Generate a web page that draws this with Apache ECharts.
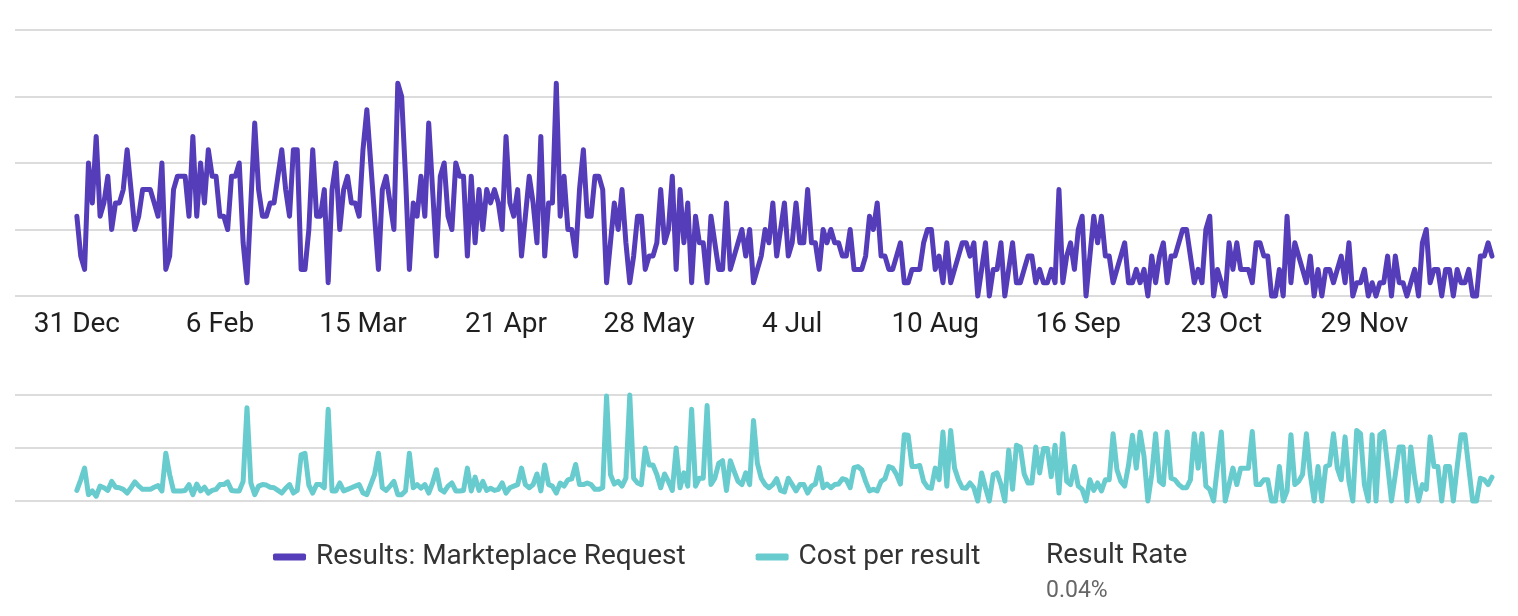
<!DOCTYPE html>
<html>
<head>
<meta charset="utf-8">
<script src="https://cdn.jsdelivr.net/npm/echarts@6/dist/echarts.min.js"></script>
<style>
html,body{margin:0;padding:0;background:#fff;}
#chart{width:1518px;height:616px;}
</style>
</head>
<body>
<div id="chart"></div>
<script>
// Day index 0 = 31 Dec; one value per day
const tickDays = [0, 37, 74, 111, 148, 185, 222, 259, 296, 333];
const tickLabels = ['31 Dec', '6 Feb', '15 Mar', '21 Apr', '28 May', '4 Jul', '10 Aug', '16 Sep', '23 Oct', '29 Nov'];

const results = [
6,3,2,10,7,12,6,7,9,5,7,7,8,11,8,5,6,8,8,8,
7,6,10,2,3,8,9,9,9,6,12,6,10,7,11,9,9,6,6,5,
9,9,10,4,1,7,13,8,6,6,7,7,9,11,8,6,11,11,2,2,
5,11,6,6,8,1,8,10,5,8,9,7,7,6,11,14,10,6,2,8,
9,7,5,16,15,9,2,7,6,9,6,13,8,3,9,10,6,5,10,9,
9,3,9,4,8,5,8,7,8,7,5,12,7,6,8,3,6,9,7,4,
12,3,7,7,16,6,9,5,5,3,8,11,6,6,9,9,8,1,4,7,
5,8,4,1,3,6,6,2,3,3,4,8,4,5,9,2,8,4,7,1,
6,4,4,1,6,4,2,2,7,2,3,4,5,3,5,1,2,3,5,4,
7,3,5,7,3,4,7,4,4,8,4,4,2,5,4,5,4,4,3,3,
5,2,2,2,3,6,5,7,3,3,2,2,3,4,1,1,2,2,2,4,
5,5,2,3,1,4,1,2,3,4,4,3,4,0,2,4,0,2,2,4,
0,2,4,1,1,2,3,3,1,2,1,1,2,1,8,1,3,4,2,5,
6,0,3,6,4,6,3,3,1,2,3,4,1,1,2,1,2,0,3,1,
3,4,1,3,3,4,5,5,3,1,2,1,5,6,0,2,1,0,4,2,
4,2,2,2,1,4,4,3,3,0,0,2,0,6,1,4,3,2,1,3,
0,2,0,2,2,1,2,3,1,4,0,1,1,2,0,1,0,1,1,3,
0,3,1,1,0,1,2,0,4,5,1,2,2,0,2,2,0,2,1,1,
2,0,0,3,3,4,3
];

const costPerResult = [
2.0,4.0,6.2,1.2,1.9,0.9,2.8,2.5,2.0,3.7,2.6,2.5,2.2,1.5,2.5,3.6,2.8,2.2,2.2,2.2,
2.6,2.9,1.9,9.0,5.0,1.9,1.9,1.9,2.0,3.1,1.2,3.2,1.9,2.6,1.5,2.0,2.2,3.1,3.1,3.6,
2.0,1.9,1.9,3.7,17.6,3.4,1.2,2.8,3.1,3.0,2.6,2.5,2.0,1.5,2.4,3.1,1.5,2.0,8.7,9.0,
3.0,1.5,3.1,3.1,2.5,17.3,1.9,1.9,3.4,1.9,2.2,2.5,2.8,3.1,1.5,1.2,3.1,5.0,9.0,2.5,
2.0,2.8,3.7,1.2,1.2,1.9,9.0,2.5,3.1,2.4,3.1,1.5,3.4,5.9,2.2,1.7,2.8,3.4,1.9,1.9,
2.0,6.2,1.9,4.5,2.0,3.7,2.0,2.4,2.0,2.2,3.4,1.5,2.5,2.8,3.1,6.2,3.1,2.5,3.1,5.1,
1.9,6.8,3.1,2.8,1.5,3.4,2.8,4.0,4.2,6.9,3.1,3.1,3.4,3.1,2.2,2.2,2.5,19.8,5.0,3.2,
3.7,2.8,4.3,20.0,4.3,3.4,3.1,10.0,6.8,6.8,5.0,2.5,5.1,3.7,2.0,10.0,2.5,5.3,2.8,17.3,
2.8,4.3,4.3,18.0,3.1,4.3,7.1,7.6,2.0,7.6,5.6,3.7,3.1,5.3,3.1,15.2,7.1,4.3,3.1,2.5,
3.1,4.2,2.0,1.7,4.3,3.1,1.9,3.1,3.1,1.5,2.8,3.2,6.3,2.5,3.2,2.5,3.1,3.2,4.2,4.0,
2.5,6.3,6.5,5.9,3.7,1.9,2.2,1.9,3.7,4.2,6.5,6.2,5.0,3.2,12.5,12.4,6.5,6.5,6.7,3.7,
2.6,2.4,6.2,4.0,13.0,2.8,13.3,6.2,4.0,2.5,2.4,3.4,2.5,0,5.3,2.5,0,5.0,5.3,3.1,
0,9.6,2.2,10.5,10.2,5.1,3.4,3.4,10.2,5.3,9.9,9.9,4.6,10.5,1.5,12.7,3.7,3.1,6.5,2.8,
2.2,0,4.0,2.0,3.4,1.9,4.0,4.0,12.7,5.9,3.7,2.8,6.8,12.4,6.2,13.0,8.4,0,5.0,12.7,
3.7,3.1,13.0,4.3,4.0,3.1,2.5,2.5,4.0,12.7,6.2,12.7,2.8,2.2,0,6.5,13.0,0,3.1,6.2,
3.1,6.2,6.2,6.2,13.1,3.1,3.1,4.0,4.0,0,0,6.5,0,1.9,12.5,3.1,3.7,5.0,12.7,5.0,
0,6.5,0,6.5,6.8,12.7,6.2,4.0,12.1,3.7,0,13.3,12.7,3.1,0,12.5,0,12.5,13.1,6.8,
0,5.0,10.2,10.2,0,10.2,4.3,0,3.1,2.2,12.1,6.5,6.5,0,6.5,6.5,0,6.5,12.5,12.5,
6.2,0,0,4.3,4.0,3.1,4.5
];

const seriesNames = ['Results: Markteplace Request', 'Cost per result'];
const colors = ['#553cb9', '#68cbce'];

const chart = echarts.init(document.getElementById('chart'), null, {renderer: 'canvas'});

const FONT = 'Roboto, "Noto Sans", sans-serif';
const gridColor = '#dcdcdc';

const xBase = {
  type: 'value', min: -16, max: 366,
  axisLine: {show: false}, axisTick: {show: false}, splitLine: {show: false}
};

chart.setOption({
  animation: false,
  backgroundColor: '#ffffff',
  grid: [
    {left: 15, right: 26, top: 30, height: 266},
    {left: 15, right: 26, top: 395, height: 106}
  ],
  xAxis: [
    Object.assign({}, xBase, {
      gridIndex: 0,
      axisLabel: {
        show: true,
        customValues: tickDays,
        formatter: function (v) { const k = tickDays.indexOf(v); return k >= 0 ? tickLabels[k] : ''; },
        color: '#1f1f1f', fontSize: 28, fontFamily: FONT, margin: 15,
        showMinLabel: true, showMaxLabel: true
      }
    }),
    Object.assign({}, xBase, {gridIndex: 1, axisLabel: {show: false}})
  ],
  yAxis: [
    {type: 'value', gridIndex: 0, min: 0, max: 20, interval: 5,
      axisLabel: {show: false}, axisLine: {show: false}, axisTick: {show: false},
      splitLine: {lineStyle: {color: gridColor, width: 2}}},
    {type: 'value', gridIndex: 1, min: 0, max: 20, interval: 10,
      axisLabel: {show: false}, axisLine: {show: false}, axisTick: {show: false},
      splitLine: {lineStyle: {color: gridColor, width: 2}}}
  ],
  legend: {
    data: seriesNames,
    left: 268, top: 538,
    icon: 'roundRect', itemWidth: 33, itemHeight: 7, itemGap: 70,
    textStyle: {fontSize: 28, fontFamily: FONT, color: '#333333', padding: [0, 0, 0, 5]},
    selectedMode: false
  },
  graphic: [
    {type: 'text', left: 1046, top: 542, style: {text: 'Result Rate', font: '28px ' + FONT, fill: '#333333'}},
    {type: 'text', left: 1046, top: 580, style: {text: '0.04%', font: '23px ' + FONT, fill: '#666666'}}
  ],
  series: [
    {name: seriesNames[0], type: 'line', xAxisIndex: 0, yAxisIndex: 0,
      data: results.map((v, i) => [i, v]), showSymbol: false, clip: false,
      lineStyle: {color: colors[0], width: 5, join: 'round', cap: 'round'},
      itemStyle: {color: colors[0]}},
    {name: seriesNames[1], type: 'line', xAxisIndex: 1, yAxisIndex: 1,
      data: costPerResult.map((v, i) => [i, v]), showSymbol: false, clip: false,
      lineStyle: {color: colors[1], width: 5, join: 'round', cap: 'round'},
      itemStyle: {color: colors[1]}}
  ]
});
</script>
</body>
</html>
